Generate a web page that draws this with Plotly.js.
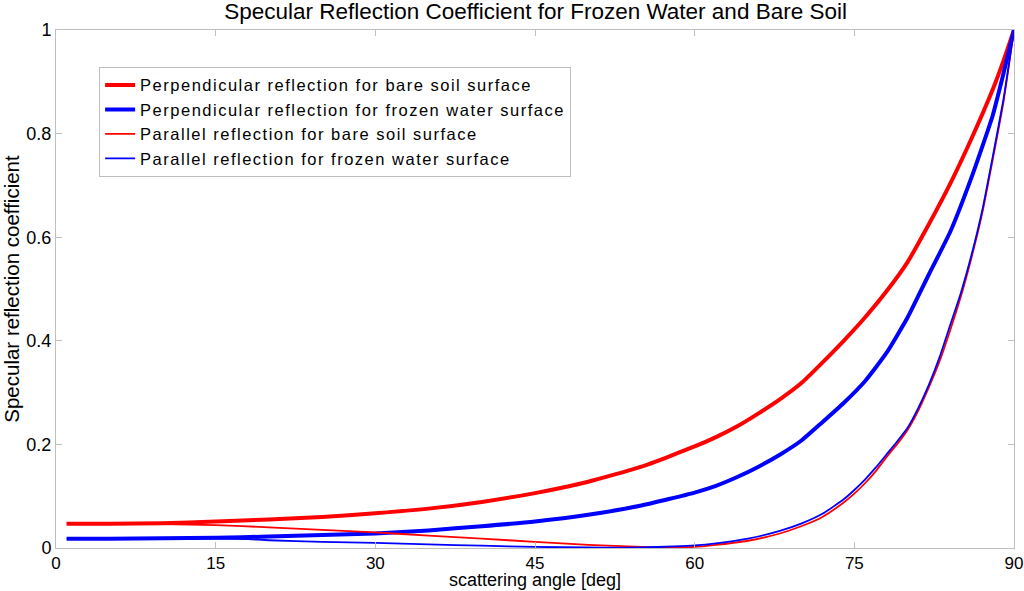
<!DOCTYPE html>
<html>
<head>
<meta charset="utf-8">
<script src="https://cdn.plot.ly/plotly-3.0.1.min.js"></script>
<style>
html,body{margin:0;padding:0;background:#fff;}
#chart{width:1024px;height:591px;}
.legendtext{letter-spacing:1.5px;}
</style>
</head>
<body>
<div id="chart"></div>
<script>
// Perpendicular reflection, bare soil
const perpSoilX = [1,5,10,15,20,25,30,35,40,45,50,55,60,62,64,66,68,70,72,74,76,78,80,82,84,86,88,89,90];
const perpSoilY = [0.047,0.047,0.048,0.051,0.055,0.060,0.067,0.076,0.089,0.106,0.128,0.157,0.196,0.214,0.235,0.260,0.287,0.318,0.358,0.400,0.445,0.495,0.552,0.625,0.703,0.790,0.885,0.940,1.0];
// Perpendicular reflection, frozen water
const perpWaterX = [1,5,10,15,20,25,30,35,40,45,50,55,60,62,64,66,68,70,72,74,76,78,80,82,84,86,88,89,90];
const perpWaterY = [0.018,0.018,0.019,0.020,0.022,0.025,0.028,0.034,0.042,0.051,0.064,0.082,0.107,0.120,0.137,0.157,0.180,0.207,0.243,0.280,0.322,0.376,0.445,0.528,0.610,0.715,0.835,0.915,1.0];
// Parallel reflection, bare soil
const parSoilX = [1,5,10,15,20,25,30,35,40,45,50,55,57,60,62,65,68,70,72,74,75,76,77,78,79,80,81,82,83,84,85,86,87,88,89,90];
const parSoilY = [0.047,0.047,0.046,0.044,0.040,0.035,0.030,0.024,0.018,0.012,0.006,0.002,0.001,0.002,0.006,0.014,0.028,0.042,0.060,0.088,0.105,0.125,0.148,0.175,0.200,0.228,0.265,0.310,0.360,0.420,0.485,0.560,0.645,0.750,0.860,1.0];
// Parallel reflection, frozen water
const parWaterX = [1,5,10,15,18,20,25,30,35,40,45,50,53,55,58,60,62,65,68,70,72,74,75,76,77,78,79,80,81,82,83,84,85,86,87,88,89,90];
const parWaterY = [0.018,0.018,0.018,0.018,0.017,0.015,0.012,0.010,0.007,0.0045,0.002,0.001,0.0005,0.001,0.003,0.005,0.009,0.018,0.033,0.047,0.066,0.094,0.112,0.132,0.155,0.180,0.205,0.232,0.270,0.315,0.368,0.430,0.492,0.565,0.650,0.755,0.865,1.0];

const names = [
  "Perpendicular reflection for bare soil surface",
  "Perpendicular reflection for frozen water surface",
  "Parallel reflection for bare soil surface",
  "Parallel reflection for frozen water surface"
];
const xTicks = [0,15,30,45,60,75,90];
const yTicks = [0,0.2,0.4,0.6,0.8,1];
const yTickText = ["0","0.2","0.4","0.6","0.8","1"];
const xTitle = "scattering angle [deg]";

const FONT = "Liberation Sans, Arial, sans-serif";

const lineStyle = (c, w) => ({color: c, width: w, shape: "spline", smoothing: 0.5});
const traces = [
  {x: perpSoilX, y: perpSoilY, name: names[0], mode: "lines", line: lineStyle("#ff0000", 4)},
  {x: perpWaterX, y: perpWaterY, name: names[1], mode: "lines", line: lineStyle("#0000ff", 4)},
  {x: parSoilX, y: parSoilY, name: names[2], mode: "lines", line: lineStyle("#ff0000", 1.8)},
  {x: parWaterX, y: parWaterY, name: names[3], mode: "lines", line: lineStyle("#0000ff", 1.8)}
];

const layout = {
  width: 1024, height: 591,
  margin: {l: 56, r: 10, t: 30, b: 43},
  paper_bgcolor: "#ffffff", plot_bgcolor: "#ffffff",
  font: {family: FONT, size: 18, color: "#000"},
  title: {text: "Specular Reflection Coefficient for Frozen Water and Bare Soil", x: 0.523, xanchor: "center", y: 0.995, yanchor: "top", font: {family: FONT, size: 22.5, color: "#000"}},
  xaxis: {
    range: [0, 90], tickvals: xTicks, ticktext: xTicks.map(String),
    ticks: "inside", ticklen: 6, tickcolor: "#bfbfbf", showgrid: false, zeroline: false,
    showline: true, linecolor: "#bfbfbf", linewidth: 1, mirror: "ticks",
    tickfont: {family: FONT, size: 17}, ticklabelstandoff: 0, ticklabeloverflow: "allow"
  },
  yaxis: {
    range: [0, 1], tickvals: yTicks, ticktext: yTickText,
    ticks: "inside", ticklen: 6, tickcolor: "#bfbfbf", showgrid: false, zeroline: false,
    showline: true, linecolor: "#bfbfbf", linewidth: 1, mirror: "ticks",
    tickfont: {family: FONT, size: 18}, ticklabelstandoff: 0, ticklabeloverflow: "allow",
    title: {text: "Specular reflection coefficient", font: {family: FONT, size: 20.5}, standoff: 2}
  },
  annotations: [{
    text: xTitle, xref: "paper", yref: "paper", x: 0.5, y: -0.083,
    xanchor: "center", yanchor: "bottom", showarrow: false, borderpad: 0,
    font: {family: FONT, size: 18, color: "#000"}
  }],
  showlegend: true,
  legend: {
    x: 0.045, y: 0.929, xanchor: "left", yanchor: "top",
    bgcolor: "#ffffff", bordercolor: "#bfbfbf", borderwidth: 1,
    font: {family: FONT, size: 16.5, color: "#000"},
    tracegroupgap: 0
  }
};

Plotly.newPlot("chart", traces, layout, {displayModeBar: false, staticPlot: true});
</script>
</body>
</html>
